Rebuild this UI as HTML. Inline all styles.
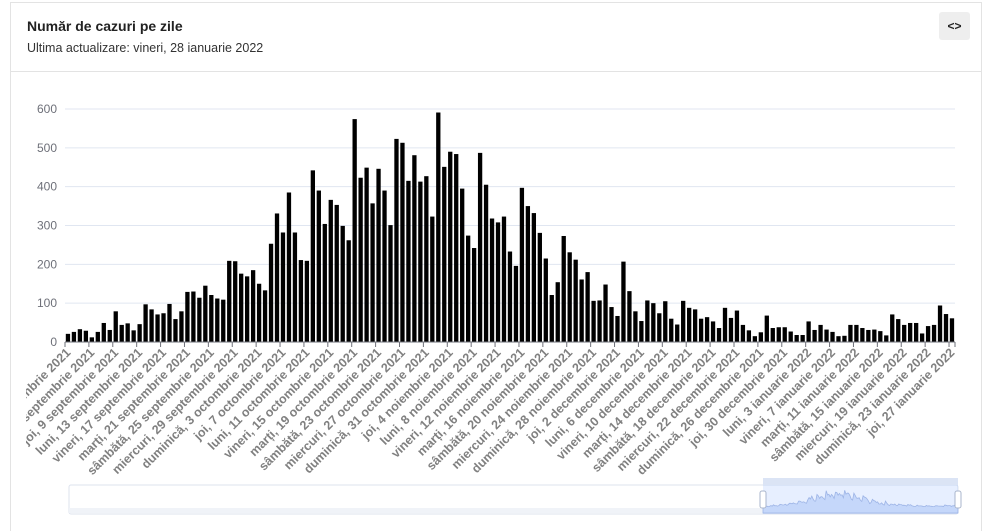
<!DOCTYPE html>
<html><head><meta charset="utf-8"><style>
html,body{margin:0;padding:0;background:#fff;width:991px;height:531px;overflow:hidden;font-family:"Liberation Sans",sans-serif;}
.wrap{position:relative;width:991px;height:531px;overflow:hidden;}
.card{position:absolute;left:10px;top:2px;width:972px;height:529px;border:1px solid #e3e3e3;border-bottom:none;box-sizing:border-box;}
.hdr{position:absolute;left:10px;top:2px;width:972px;height:70px;border-bottom:1px solid #e3e3e3;box-sizing:border-box;}
.t{position:absolute;left:27px;top:18px;font-weight:bold;font-size:14px;color:#222;}
.s{position:absolute;left:27px;top:41px;font-size:12.5px;color:#333;}
.btn{position:absolute;left:939px;top:12px;width:31px;height:28px;background:#eeeeee;border-radius:3px;font-size:12px;font-weight:bold;text-align:center;line-height:28px;color:#222;}
svg{position:absolute;left:0;top:0;}
</style></head><body><div class="wrap">
<div class="card"></div><div class="hdr"></div>
<div class="t">Număr de cazuri pe zile</div>
<div class="s">Ultima actualizare: vineri, 28 ianuarie 2022</div>
<div class="btn">&lt;&gt;</div>
<svg id="c" width="991" height="531" xmlns="http://www.w3.org/2000/svg"></svg>
</div>
<script>
var d=[21,26,33,29,12,26,49,31,79,44,48,30,46,97,84,71,74,98,59,79,129,130,114,145,121,112,109,209,208,176,169,185,150,133,253,331,282,385,
282,211,209,442,390,304,366,353,299,262,574,423,449,357,446,390,301,523,513,415,481,413,427,323,591,451,490,484,395,274,242,487,405,318,308,323,
233,196,397,350,332,281,215,121,154,273,231,212,161,180,106,107,148,90,67,207,131,79,54,107,100,74,105,60,45,106,88,84,60,64,53,36,88,
62,81,44,30,15,25,68,36,38,38,27,18,18,53,31,44,32,26,15,16,44,44,36,31,32,28,17,71,59,44,49,49,22,41,44,94,72,61];
var L=["miercuri, 1 septembrie 2021","duminică, 5 septembrie 2021","joi, 9 septembrie 2021","luni, 13 septembrie 2021","vineri, 17 septembrie 2021","marți, 21 septembrie 2021","sâmbătă, 25 septembrie 2021","miercuri, 29 septembrie 2021","duminică, 3 octombrie 2021","joi, 7 octombrie 2021","luni, 11 octombrie 2021","vineri, 15 octombrie 2021","marți, 19 octombrie 2021","sâmbătă, 23 octombrie 2021","miercuri, 27 octombrie 2021","duminică, 31 octombrie 2021","joi, 4 noiembrie 2021","luni, 8 noiembrie 2021","vineri, 12 noiembrie 2021","marți, 16 noiembrie 2021","sâmbătă, 20 noiembrie 2021","miercuri, 24 noiembrie 2021","duminică, 28 noiembrie 2021","joi, 2 decembrie 2021","luni, 6 decembrie 2021","vineri, 10 decembrie 2021","marți, 14 decembrie 2021","sâmbătă, 18 decembrie 2021","miercuri, 22 decembrie 2021","duminică, 26 decembrie 2021","joi, 30 decembrie 2021","luni, 3 ianuarie 2022","vineri, 7 ianuarie 2022","marți, 11 ianuarie 2022","sâmbătă, 15 ianuarie 2022","miercuri, 19 ianuarie 2022","duminică, 23 ianuarie 2022","joi, 27 ianuarie 2022"];
var x0=65,x1=955,y0=342,k=233/600,n=d.length,bw=(x1-x0)/n,h='';
var sx0=69,sx1=958,sy0=485,sy1=514,ss=763;
h+='<defs><clipPath id="cl"><rect x="26" y="340" width="940" height="140"/></clipPath></defs>';
for(var v=0;v<=600;v+=100){var y=y0-v*k;
 if(v>0)h+='<line x1="'+x0+'" x2="'+x1+'" y1="'+y+'" y2="'+y+'" stroke="#e0e6f1"/>';
 h+='<text x="57" y="'+(y+4)+'" font-size="12" fill="#6e7079" text-anchor="end">'+v+'</text>';}
for(var i=0;i<n;i++){var hh=d[i]*k;h+='<rect x="'+(x0+i*bw+0.8).toFixed(2)+'" y="'+(y0-hh).toFixed(2)+'" width="'+(bw*0.72).toFixed(2)+'" height="'+hh.toFixed(2)+'" fill="#000"/>';}
h+='<line x1="'+x0+'" x2="'+x1+'" y1="'+y0+'" y2="'+y0+'" stroke="#6e7079"/>';
h+='<g clip-path="url(#cl)">';
for(var j=0;j<L.length;j++){var tx=x0+j*4*bw;
 h+='<line x1="'+tx+'" x2="'+tx+'" y1="342" y2="347" stroke="#6e7079"/>';
 var lx=tx+bw/2+1,ly=351;
 h+='<text transform="translate('+lx+','+ly+') rotate(-45)" font-size="12.5" font-weight="bold" fill="#808080" text-anchor="end" dominant-baseline="middle">'+L[j]+'</text>';}
h+='<line x1="'+x1+'" x2="'+x1+'" y1="342" y2="347" stroke="#6e7079"/></g>';
h+='<rect x="'+sx0+'" y="'+sy0+'" width="'+(sx1-sx0)+'" height="'+(sy1-sy0)+'" rx="2" fill="#fff" stroke="#dde3ee"/>';
h+='<rect x="'+sx0+'" y="'+(sy1-6)+'" width="'+(ss-sx0)+'" height="5" fill="#f0f3f8"/>';
h+='<rect x="'+ss+'" y="'+sy0+'" width="'+(sx1-ss)+'" height="'+(sy1-sy0)+'" fill="rgba(135,175,255,0.2)"/>';
h+='<rect x="'+ss+'" y="478" width="'+(sx1-ss)+'" height="7" fill="#dbe4f5"/>';
var p='M'+ss+','+(sy1-1);
for(var i=0;i<n;i++){p+=' L'+(ss+i*(sx1-ss)/(n-1)).toFixed(1)+','+(sy1-7-d[i]*17/600).toFixed(1);}
p+=' L'+sx1+','+(sy1-1)+' Z';
h+='<path d="'+p+'" fill="rgba(120,160,240,0.3)" stroke="#9db4e6" stroke-width="0.8"/>';
h+='<rect x="760" y="491" width="6" height="17" rx="2" fill="#fff" stroke="#aab6cc"/>';
h+='<rect x="955" y="491" width="6" height="17" rx="2" fill="#fff" stroke="#aab6cc"/>';
document.getElementById('c').innerHTML=h;
</script>
</body></html>
